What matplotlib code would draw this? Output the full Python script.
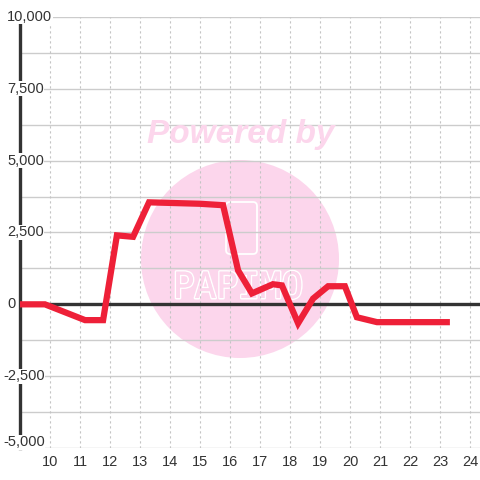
import matplotlib
matplotlib.use("Agg")
import matplotlib.pyplot as plt
import matplotlib.patheffects as pe
from matplotlib.patches import Circle, FancyBboxPatch
from matplotlib.transforms import blended_transform_factory

# ---- data ----
hours = [9.0, 9.83, 11.17, 11.77, 12.23, 12.77, 13.3, 15.0, 15.77, 16.27,
         16.73, 17.43, 17.73, 18.27, 18.77, 19.27, 19.83, 20.23, 20.9, 23.33]
values = [0, 0, -550, -550, 2400, 2350, 3550, 3500, 3450, 1180,
          380, 700, 660, -660, 200, 630, 630, -450, -620, -620]
x_ticks = list(range(10, 25))
y_ticks = [-5000, -2500, 0, 2500, 5000, 7500, 10000]
y_tick_labels = ["-5,000", "-2,500", "0", "2,500", "5,000", "7,500", "10,000"]
y_grid = [-5000, -3750, -2500, -1250, 0, 1250, 2500, 3750, 5000, 6250, 7500, 8750, 10000]

W = H = 480
fig = plt.figure(figsize=(4.8, 4.8), dpi=100)
fig.patch.set_facecolor("white")
ax = fig.add_axes([20 / W, 1 - 448 / H, 460 / W, 431 / H])
ax.set_xlim(9.0, 9.0 + 460 / 30)
ax.set_ylim(-5000, 10000)
for s in ["top", "right", "bottom"]:
    ax.spines[s].set_visible(False)
ax.spines["left"].set_color("#333333")
ax.spines["left"].set_linewidth(2.4)
ax.spines["left"].set_zorder(3)
ax.set_xticks([])
ax.set_yticks([])

# gridlines
for yv in y_grid:
    ax.axhline(yv, color="#cccccc", lw=1.0, zorder=1)
for xv in x_ticks:
    ax.axvline(xv, color="#c4c4c4", lw=0.8, ls=(0, (2, 2.5)), zorder=1)

# watermark
circ = Circle((240, H - 259), 99, transform=None, facecolor="#fcd6ec",
              edgecolor="none", zorder=0.5)
ax.add_artist(circ)
cup = FancyBboxPatch((226, H - 254), 31, 52, boxstyle="round,pad=0,rounding_size=4",
                     transform=None, facecolor="none", edgecolor="white", lw=1.3, zorder=0.6)
ax.add_artist(cup)
ax.text(241 / W, 1 - 134 / H, "Powered by", color="#fcd6ec", fontsize=24,
        fontweight="bold", fontstyle="italic", family="Liberation Sans",
        ha="center", va="center", zorder=1.2, transform=fig.transFigure)
t = ax.text(238 / W, 1 - 288 / H, "PAPIMO", color="#fcd6ec", fontsize=26,
            family="DejaVu Sans Mono", ha="center", va="center", zorder=0.7,
            transform=fig.transFigure)
t.set_path_effects([pe.withStroke(linewidth=2.2, foreground="white"), pe.Normal()])

# zero line
ax.axhline(0, color="#333333", lw=2.4, zorder=2)

# data line
ax.plot(hours, values, color="#ee2038", lw=4.5, solid_joinstyle="miter",
        solid_capstyle="butt", zorder=4)

# tick labels
tr_y = blended_transform_factory(fig.transFigure, ax.transData)
for yv, lab in zip(y_ticks, y_tick_labels):
    xpx = 3 if lab.startswith("-") else 7
    ypos = yv + (200 if yv == -5000 else 0)
    ax.text(xpx / W, ypos, lab, transform=tr_y, ha="left", va="center",
            fontsize=10.5, color="#333333", family="Liberation Sans", zorder=3.5,
            bbox=dict(facecolor="white", edgecolor="none", pad=0.3), clip_on=False)
tr_x = blended_transform_factory(ax.transData, fig.transFigure)
for xv in x_ticks:
    ax.text(xv, 1 - 462 / H, str(xv), transform=tr_x, ha="center", va="center",
            fontsize=10.5, color="#333333", family="Liberation Sans", clip_on=False)

fig.savefig("out.png", dpi=100, facecolor="white")
